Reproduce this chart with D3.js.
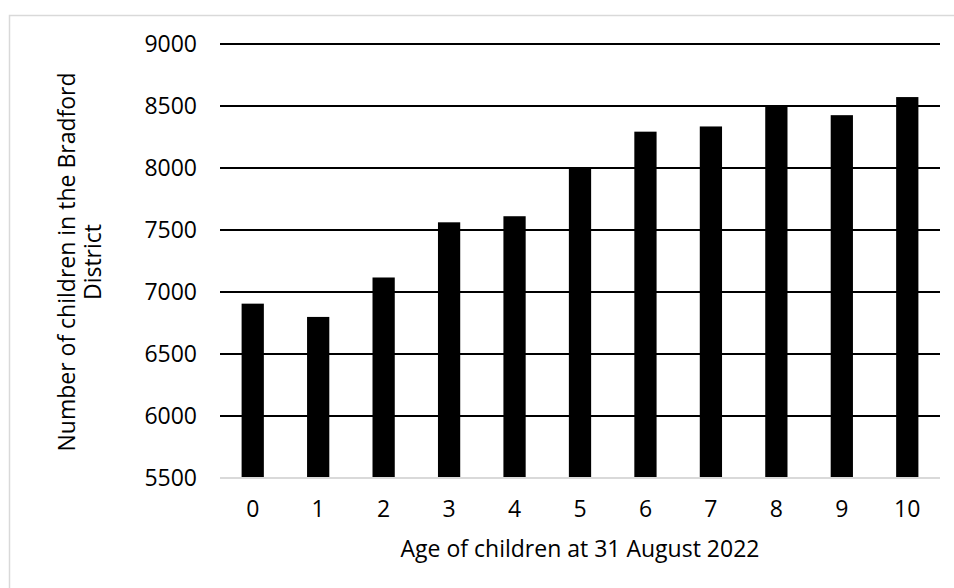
<!DOCTYPE html>
<html>
<head>
<meta charset="utf-8">
<script src="https://cdn.jsdelivr.net/npm/d3@7"></script>
<style>
  body { margin: 0; background: #fff; }
  text { font-family: "Open Sans", sans-serif; fill: #000; }
</style>
</head>
<body>
<div id="d3-container"></div>
<script>
// Data
const ages = ["0", "1", "2", "3", "4", "5", "6", "7", "8", "9", "10"];
const children = [6906, 6799, 7117, 7562, 7611, 7992, 8293, 8335, 8495, 8426, 8572];
const yTicks = [5500, 6000, 6500, 7000, 7500, 8000, 8500, 9000];

function drawChart() {
    const width = 954;
    const height = 588;
    const margin = { top: 44, bottom: 110, left: 220, right: 14 };
    const font = "Open Sans, sans-serif";
    const fontSize = "23px";

    const svg = d3.select("#d3-container")
        .append("svg")
        .attr("width", width)
        .attr("height", height);

    // chart frame (runs off the right and bottom edges)
    svg.append("rect")
        .attr("x", 9.5)
        .attr("y", 15.5)
        .attr("width", 1000)
        .attr("height", 1000)
        .attr("fill", "none")
        .attr("stroke", "#d9d9d9")
        .attr("stroke-width", 1.5);

    const x = d3.scaleBand()
        .domain(ages)
        .range([margin.left, width - margin.right])
        .paddingInner(0.66)
        .paddingOuter(0.33);

    const y = d3.scaleLinear()
        .domain([5500, 9000])
        .range([height - margin.bottom, margin.top]);

    // gridlines
    svg.append("g")
        .selectAll("line")
        .data(yTicks.filter(d => d > 5500))
        .join("line")
        .attr("x1", margin.left)
        .attr("x2", width - margin.right)
        .attr("y1", d => y(d))
        .attr("y2", d => y(d))
        .attr("stroke", "#000")
        .attr("stroke-width", 2);

    // bars
    svg.append("g")
        .attr("fill", "#000")
        .selectAll("rect")
        .data(children)
        .join("rect")
        .attr("x", (d, i) => x(ages[i]))
        .attr("y", d => y(d))
        .attr("width", x.bandwidth())
        .attr("height", d => y(5500) - y(d));

    // x axis
    const xAxis = svg.append("g")
        .attr("transform", `translate(0,${y(5500)})`)
        .call(d3.axisBottom(x).tickSize(0).tickPadding(23))
        .attr("font-size", fontSize)
        .attr("font-family", font);
    xAxis.select(".domain")
        .attr("d", `M${margin.left},0H${width - margin.right}`)
        .attr("stroke", "#d9d9d9")
        .attr("stroke-width", 2);

    // y axis
    const yAxis = svg.append("g")
        .attr("transform", `translate(${margin.left},0)`)
        .call(d3.axisLeft(y).tickValues(yTicks).tickFormat(d3.format("d")).tickSize(0).tickPadding(23))
        .attr("font-size", fontSize)
        .attr("font-family", font);
    yAxis.select(".domain").remove();

    // axis titles
    svg.append("text")
        .attr("x", (margin.left + width - margin.right) / 2)
        .attr("y", 557)
        .attr("text-anchor", "middle")
        .attr("font-size", fontSize)
        .text("Age of children at 31 August 2022");

    const yTitle = svg.append("text")
        .attr("transform", "translate(75,262) rotate(-90)")
        .attr("text-anchor", "middle")
        .attr("font-size", fontSize);
    yTitle.append("tspan").attr("x", 0).attr("y", 0).text("Number of children in the Bradford");
    yTitle.append("tspan").attr("x", 0).attr("y", 26).text("District");
}

drawChart();
</script>
</body>
</html>
